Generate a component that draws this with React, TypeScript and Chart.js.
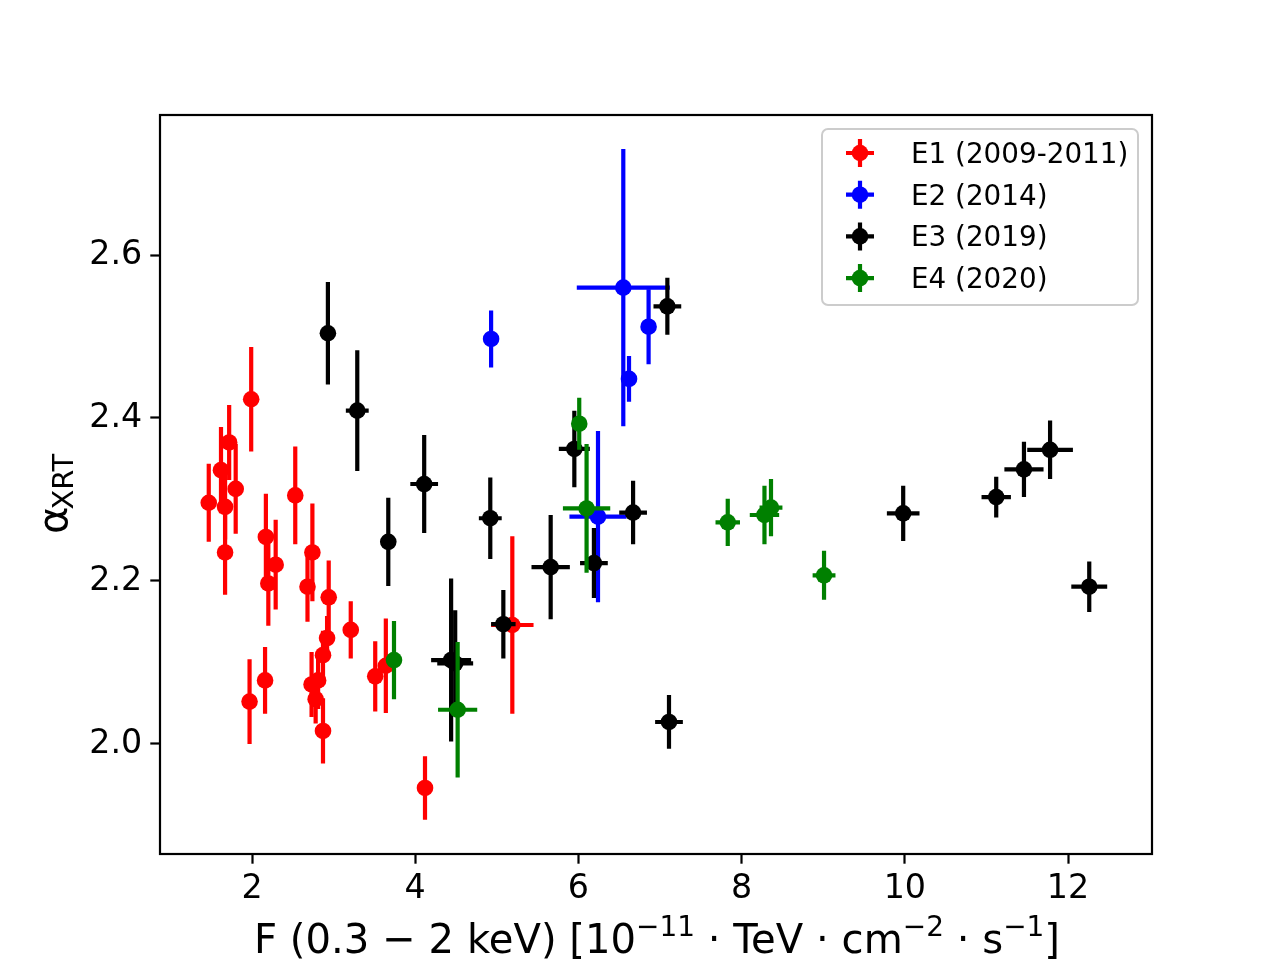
import { useEffect, useRef } from "react";
import Chart from "chart.js/auto";

// E1 (2009-2011)
const e1X = [1.99, 1.72, 1.62, 1.8, 1.47, 1.67, 1.67, 2.53, 2.17, 2.29, 2.2, 2.74, 2.68, 2.94, 3.21, 2.92, 2.87, 2.16, 1.97, 2.73, 2.81, 2.78, 2.87, 3.51, 3.64, 4.12, 5.19];
const e1Y = [2.423, 2.37, 2.336, 2.313, 2.296, 2.291, 2.235, 2.305, 2.254, 2.22, 2.197, 2.235, 2.193, 2.18, 2.14, 2.13, 2.109, 2.078, 2.052, 2.073, 2.078, 2.055, 2.016, 2.083, 2.096, 1.946, 2.146];
const e1XErr = [0.03, 0.03, 0.03, 0.03, 0.03, 0.03, 0.03, 0.03, 0.03, 0.03, 0.03, 0.03, 0.03, 0.03, 0.03, 0.03, 0.03, 0.03, 0.03, 0.03, 0.03, 0.03, 0.03, 0.03, 0.03, 0.03, 0.26];
const e1YErr = [0.064, 0.046, 0.053, 0.055, 0.048, 0.04, 0.052, 0.06, 0.053, 0.055, 0.052, 0.06, 0.043, 0.045, 0.035, 0.027, 0.03, 0.041, 0.052, 0.04, 0.035, 0.03, 0.04, 0.043, 0.058, 0.039, 0.109];

// E2 (2014)
const e2X = [4.93, 6.55, 6.86, 6.62, 6.24];
const e2Y = [2.497, 2.56, 2.512, 2.448, 2.279];
const e2XErr = [0.03, 0.57, 0.03, 0.03, 0.35];
const e2YErr = [0.035, 0.17, 0.046, 0.028, 0.105];

// E3 (2019)
const e3X = [2.93, 3.29, 4.11, 3.67, 4.92, 5.95, 6.67, 5.66, 6.19, 5.08, 4.44, 4.49, 7.09, 7.11, 9.98, 11.12, 11.46, 11.78, 12.26];
const e3Y = [2.504, 2.409, 2.319, 2.248, 2.277, 2.362, 2.284, 2.217, 2.222, 2.147, 2.103, 2.099, 2.537, 2.027, 2.283, 2.303, 2.337, 2.361, 2.193];
const e3XErr = [0.05, 0.14, 0.17, 0.05, 0.14, 0.19, 0.17, 0.235, 0.17, 0.15, 0.245, 0.22, 0.17, 0.17, 0.2, 0.18, 0.24, 0.28, 0.22];
const e3YErr = [0.063, 0.074, 0.06, 0.054, 0.05, 0.047, 0.039, 0.064, 0.043, 0.042, 0.1, 0.065, 0.035, 0.033, 0.034, 0.025, 0.034, 0.036, 0.031];

// E4 (2020)
const e4X = [6.01, 6.1, 3.74, 4.52, 7.83, 8.28, 8.36, 9.01];
const e4Y = [2.393, 2.289, 2.103, 2.042, 2.272, 2.281, 2.29, 2.207];
const e4XErr = [0.04, 0.29, 0.05, 0.24, 0.15, 0.18, 0.14, 0.14];
const e4YErr = [0.032, 0.079, 0.048, 0.083, 0.029, 0.036, 0.035, 0.03];

const xTicks = [2, 4, 6, 8, 10, 12];
const yTicks = [2.0, 2.2, 2.4, 2.6];

const series = [
  { label: "E1 (2009-2011)", color: "#ff0000", x: e1X, y: e1Y, xErr: e1XErr, yErr: e1YErr },
  { label: "E2 (2014)", color: "#0000ff", x: e2X, y: e2Y, xErr: e2XErr, yErr: e2YErr },
  { label: "E3 (2019)", color: "#000000", x: e3X, y: e3Y, xErr: e3XErr, yErr: e3YErr },
  { label: "E4 (2020)", color: "#008000", x: e4X, y: e4Y, xErr: e4XErr, yErr: e4YErr },
];

const FONT = "'DejaVu Sans', sans-serif";

const errorBars = {
  id: "errorBars",
  beforeDatasetDraw(chart: any, args: any) {
    const ds = chart.data.datasets[args.index];
    const xs = chart.scales.x;
    const ys = chart.scales.y;
    const ctx = chart.ctx;
    ctx.save();
    ctx.strokeStyle = ds.errColor;
    ctx.lineWidth = 4.2;
    ds.data.forEach((p: any, i: number) => {
      const px = xs.getPixelForValue(p.x);
      const py = ys.getPixelForValue(p.y);
      ctx.beginPath();
      ctx.moveTo(xs.getPixelForValue(p.x - ds.xErr[i]), py);
      ctx.lineTo(xs.getPixelForValue(p.x + ds.xErr[i]), py);
      ctx.moveTo(px, ys.getPixelForValue(p.y - ds.yErr[i]));
      ctx.lineTo(px, ys.getPixelForValue(p.y + ds.yErr[i]));
      ctx.stroke();
    });
    ctx.restore();
  },
};

const decorations = {
  id: "decorations",
  afterDraw(chart: any) {
    const ctx = chart.ctx;
    const { left, right, top, bottom } = chart.chartArea;
    ctx.save();

    // spines
    ctx.strokeStyle = "#000";
    ctx.lineWidth = 2.2;
    ctx.strokeRect(left, top, right - left, bottom - top);

    // legend
    const lx = 822, ly = 129, lw = 316, lh = 176, r = 6;
    ctx.beginPath();
    ctx.moveTo(lx + r, ly);
    ctx.arcTo(lx + lw, ly, lx + lw, ly + lh, r);
    ctx.arcTo(lx + lw, ly + lh, lx, ly + lh, r);
    ctx.arcTo(lx, ly + lh, lx, ly, r);
    ctx.arcTo(lx, ly, lx + lw, ly, r);
    ctx.closePath();
    ctx.fillStyle = "rgba(255,255,255,0.8)";
    ctx.fill();
    ctx.strokeStyle = "#cccccc";
    ctx.lineWidth = 2;
    ctx.stroke();

    ctx.font = `27.8px ${FONT}`;
    ctx.textBaseline = "alphabetic";
    ctx.textAlign = "left";
    series.forEach((s, i) => {
      const cy = 153 + i * 41.7;
      const cx = 860;
      ctx.strokeStyle = s.color;
      ctx.lineWidth = 4.2;
      ctx.beginPath();
      ctx.moveTo(cx - 14, cy);
      ctx.lineTo(cx + 14, cy);
      ctx.moveTo(cx, cy - 14);
      ctx.lineTo(cx, cy + 14);
      ctx.stroke();
      ctx.fillStyle = s.color;
      ctx.beginPath();
      ctx.arc(cx, cy, 8.3, 0, Math.PI * 2);
      ctx.fill();
      ctx.fillStyle = "#000";
      ctx.fillText(s.label, 911, cy + 10);
    });

    // x axis label with superscripts
    const big = 41.7;
    const small = 29;
    const parts: [string, boolean][] = [
      ["F (0.3 \u2212 2 keV) [10", false],
      ["\u221211", true],
      [" \u00b7 TeV \u00b7 cm", false],
      ["\u22122", true],
      [" \u00b7 s", false],
      ["\u22121", true],
      ["]", false],
    ];
    let total = 0;
    parts.forEach(([t, sup]) => {
      ctx.font = `${sup ? small : big}px ${FONT}`;
      total += ctx.measureText(t).width;
    });
    const targetW = 806;
    const sx = targetW / total;
    ctx.save();
    ctx.translate(254, 953);
    ctx.scale(sx, 1);
    let cur = 0;
    ctx.fillStyle = "#000";
    parts.forEach(([t, sup]) => {
      ctx.font = `${sup ? small : big}px ${FONT}`;
      ctx.fillText(t, cur, sup ? -17 : 0);
      cur += ctx.measureText(t).width;
    });
    ctx.restore();

    // y axis label alpha_XRT
    ctx.save();
    ctx.translate(67, 534);
    ctx.rotate(-Math.PI / 2);
    ctx.font = `${big}px ${FONT}`;
    ctx.fillText("\u03b1", 0, 0);
    const aw = ctx.measureText("\u03b1").width;
    ctx.font = `${small}px ${FONT}`;
    ctx.fillText("XRT", aw - 3, 5.5);
    ctx.restore();

    ctx.restore();
  },
};

export default function App() {
  const canvasRef = useRef<HTMLCanvasElement | null>(null);

  useEffect(() => {
    const canvas = canvasRef.current;
    if (!canvas) return;
    const ctx = canvas.getContext("2d");
    if (!ctx) return;

    const chart = new Chart(ctx, {
      type: "scatter",
      data: {
        datasets: series.map((s, i) => ({
          label: s.label,
          data: s.x.map((v, j) => ({ x: v, y: s.y[j] })),
          xErr: s.xErr,
          yErr: s.yErr,
          errColor: s.color,
          backgroundColor: s.color,
          borderWidth: 0,
          pointRadius: 8.3,
          pointHoverRadius: 8.3,
          order: series.length - i,
        })) as any,
      },
      options: {
        animation: false,
        responsive: true,
        maintainAspectRatio: false,
        events: [],
        layout: { padding: { left: 0, top: 115, right: 128, bottom: 0 } },
        plugins: {
          legend: { display: false },
          tooltip: { enabled: false },
        },
        scales: {
          x: {
            type: "linear",
            min: 0.8725,
            max: 13.029,
            afterBuildTicks: (scale: any) => {
              scale.ticks = xTicks.map((v) => ({ value: v }));
            },
            afterFit: (scale: any) => {
              scale.height = 106;
            },
            ticks: {
              color: "#000",
              font: { family: FONT, size: 33.3 },
              padding: 6,
              maxRotation: 0,
              callback: (v: any) => String(v),
            },
            grid: {
              drawOnChartArea: false,
              drawTicks: true,
              tickLength: 9.7,
              tickWidth: 2.2,
              color: "#000",
            },
            border: { display: false },
          },
          y: {
            type: "linear",
            min: 1.865,
            max: 2.7718,
            afterBuildTicks: (scale: any) => {
              scale.ticks = yTicks.map((v) => ({ value: v }));
            },
            afterFit: (scale: any) => {
              scale.width = 160;
            },
            ticks: {
              color: "#000",
              font: { family: FONT, size: 33.3 },
              padding: 8,
              callback: (v: any) => Number(v).toFixed(1),
            },
            grid: {
              drawOnChartArea: false,
              drawTicks: true,
              tickLength: 9.7,
              tickWidth: 2.2,
              color: "#000",
            },
            border: { display: false },
          },
        },
      },
      plugins: [errorBars, decorations],
    });

    return () => {
      chart.destroy();
    };
  }, []);

  return (
    <div style={{ position: "absolute", left: 0, top: 0, width: 1280, height: 960, background: "#fff" }}>
      <canvas ref={canvasRef} />
    </div>
  );
}
